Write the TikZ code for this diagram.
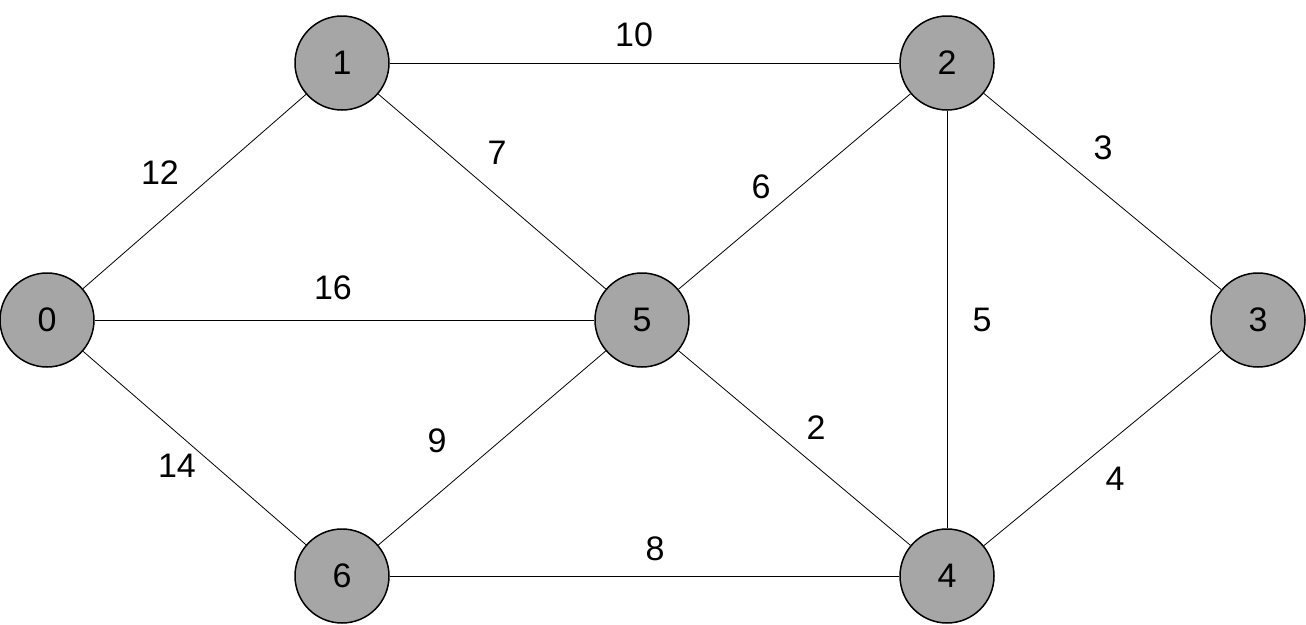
\documentclass[tikz,border=0pt]{standalone}
\usepackage{fontspec}
\setmainfont{Liberation Sans}
\definecolor{nodegray}{HTML}{A6A6A6}
\begin{document}
\begin{tikzpicture}[x=1pt,y=-1pt,
  vtx/.style={circle,draw=black,line width=1.5pt,fill=nodegray,minimum size=94pt,inner sep=0pt,font=\fontsize{34}{40}\selectfont},
  wlabel/.style={inner sep=0pt,font=\fontsize{34}{40}\selectfont},
  edge/.style={draw=black,line width=0.8pt}]
\useasboundingbox (0,0) rectangle (1306,624);
\node[vtx] (n0) at (47,320) {0};
\node[vtx] (n1) at (342,63) {1};
\node[vtx] (n2) at (947,63) {2};
\node[vtx] (n3) at (1258,320) {3};
\node[vtx] (n4) at (947,576) {4};
\node[vtx] (n5) at (642,320) {5};
\node[vtx] (n6) at (342,576) {6};
\path[edge] (n0) -- (n1);
\path[edge] (n0) -- (n5);
\path[edge] (n0) -- (n6);
\path[edge] (n1) -- (n2);
\path[edge] (n1) -- (n5);
\path[edge] (n2) -- (n5);
\path[edge] (n2) -- (n3);
\path[edge] (n2) -- (n4);
\path[edge] (n5) -- (n4);
\path[edge] (n5) -- (n6);
\path[edge] (n6) -- (n4);
\path[edge] (n3) -- (n4);
\node[wlabel] (l12) at (160,173) {12};
\node[wlabel] (l10) at (634,35) {10};
\node[wlabel] (l7) at (497,153) {7};
\node[wlabel] (l16) at (333,288) {16};
\node[wlabel] (l6) at (761,187) {6};
\node[wlabel] (l3) at (1103,148) {3};
\node[wlabel] (l5) at (982,320) {5};
\node[wlabel] (l9) at (437,441) {9};
\node[wlabel] (l2) at (816,428) {2};
\node[wlabel] (l14) at (177,466) {14};
\node[wlabel] (l8) at (655,549) {8};
\node[wlabel] (l4) at (1115,479) {4};
\end{tikzpicture}
\end{document}
